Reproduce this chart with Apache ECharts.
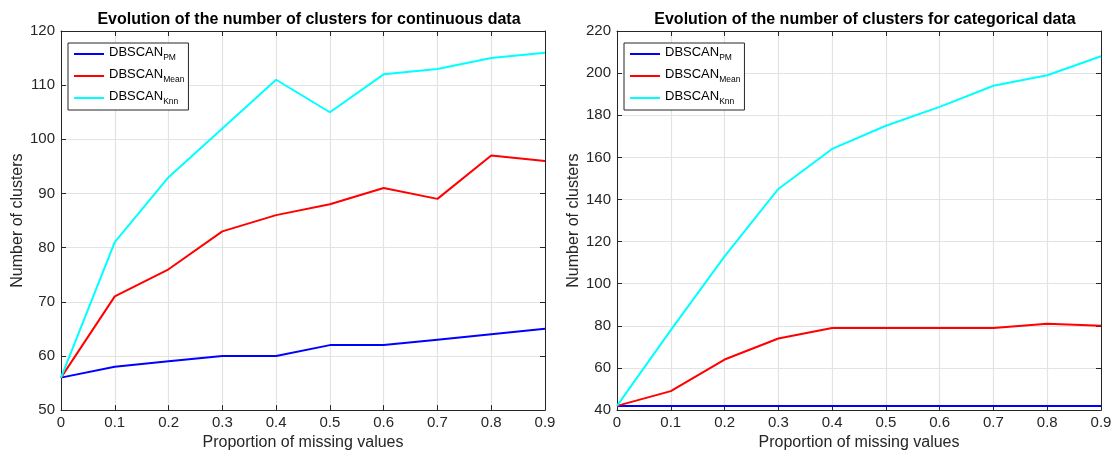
<!DOCTYPE html>
<html>
<head>
<meta charset="utf-8">
<script src="https://cdn.jsdelivr.net/npm/echarts@6/dist/echarts.min.js"></script>
<style>
html,body{margin:0;padding:0;background:#fff;}
#main{width:1115px;height:456px;}
</style>
</head>
<body>
<div id="main"></div>
<script>
let proportions = [0, 0.1, 0.2, 0.3, 0.4, 0.5, 0.6, 0.7, 0.8, 0.9];

// continuous data
let contPM = [56, 58, 59, 60, 60, 62, 62, 63, 64, 65];
let contMean = [56, 71, 76, 83, 86, 88, 91, 89, 97, 96];
let contKnn = [56, 81, 93, 102, 111, 105, 112, 113, 115, 116];

// categorical data
let catPM = [42, 42, 42, 42, 42, 42, 42, 42, 42, 42];
let catMean = [42, 49, 64, 74, 79, 79, 79, 79, 81, 80];
let catKnn = [42, 78, 113, 145, 164, 175, 184, 194, 199, 208];

let seriesNames = ["PM", "Mean", "Knn"];
let seriesColors = ["#0000ff", "#ff0000", "#00ffff"];
let titles = ["Evolution of the number of clusters for continuous data", "Evolution of the number of clusters for categorical data"];

let myEchart = echarts.init(document.getElementById("main"));

function pairs(arr){
	return arr.map((v,i)=>[proportions[i], v]);
}

let grids = [
	{left:61, top:31, width:484, height:382},
	{left:617, top:31, width:484, height:382}
];
let txt = "#262626";
let font = "Helvetica, Arial, 'Liberation Sans', sans-serif";

function xAxisFor(g, pos){
	return {
		type:"value", gridIndex:g, position:pos, min:0, max:0.9, interval:0.1,
		name: pos=="bottom" ? "Proportion of missing values" : "",
		nameLocation:"middle", nameGap:23,
		nameTextStyle:{color:txt, fontSize:16, fontFamily:font},
		axisLine:{show:true, onZero:false, lineStyle:{color:"#262626", width:1}},
		axisTick:{show:true, inside:true, length:5, lineStyle:{color:"#262626"}},
		axisLabel:{show: pos=="bottom", color:txt, fontSize:15, fontFamily:font, margin:5},
		splitLine:{show: pos=="bottom", lineStyle:{color:"#e3e3e3", width:1.2}}
	};
}
function yAxisFor(g, pos, min, max, interval){
	return {
		type:"value", gridIndex:g, position:pos, min:min, max:max, interval:interval,
		name: pos=="left" ? "Number of clusters" : "",
		nameLocation:"middle", nameGap:35, nameRotate:90,
		nameTextStyle:{color:txt, fontSize:16, fontFamily:font},
		axisLine:{show:true, onZero:false, lineStyle:{color:"#262626", width:1}},
		axisTick:{show:true, inside:true, length:5, lineStyle:{color:"#262626"}},
		axisLabel:{show: pos=="left", color:txt, fontSize:15, fontFamily:font, margin:6},
		splitLine:{show: pos=="left", lineStyle:{color:"#e3e3e3", width:1.2}}
	};
}

let legendRich = {
	a:{fontSize:13, color:"#000", fontFamily:font, verticalAlign:"top"},
	b:{fontSize:8.5, color:"#000", fontFamily:font, padding:[7,0,0,0]}
};

let allData = [[contPM, contMean, contKnn], [catPM, catMean, catKnn]];
let series = [];
allData.forEach((group, g)=>{
	group.forEach((vals, k)=>{
		series.push({
			name:seriesNames[k], type:"line", xAxisIndex:g*2, yAxisIndex:g*2,
			data:pairs(vals), showSymbol:false, symbol:"none",
			lineStyle:{color:seriesColors[k], width:2},
			itemStyle:{color:seriesColors[k]},
			z:3, animation:false
		});
	});
});

let opt = {
	animation:false,
	title: titles.map((t,i)=>({
		text:t, left:grids[i].left + grids[i].width/2 + 1, top:7, textAlign:"center",
		textStyle:{fontSize:16, fontWeight:"bold", color:"#000", fontFamily:font}
	})),
	grid: grids.map(g=>Object.assign({containLabel:false}, g)),
	legend: grids.map((g,i)=>({
		orient:"vertical", left:g.left+7, top:g.top+12,
		data:seriesNames, icon:"rect", itemWidth:30, itemHeight:2,
		itemGap:6, padding:[3,4,4,6],
		borderColor:"#262626", borderWidth:1, backgroundColor:"#fff",
		selectedMode:false,
		formatter: name=>"{a|DBSCAN}{b|" + name + "}",
		textStyle:{rich:legendRich, padding:[0,0,0,0]}
	})),
	xAxis: [xAxisFor(0,"bottom"), xAxisFor(0,"top"), xAxisFor(1,"bottom"), xAxisFor(1,"top")],
	yAxis: [yAxisFor(0,"left",50,120,10), yAxisFor(0,"right",50,120,10), yAxisFor(1,"left",40,220,20), yAxisFor(1,"right",40,220,20)],
	series: series
};
myEchart.setOption(opt);
</script>
</body>
</html>
